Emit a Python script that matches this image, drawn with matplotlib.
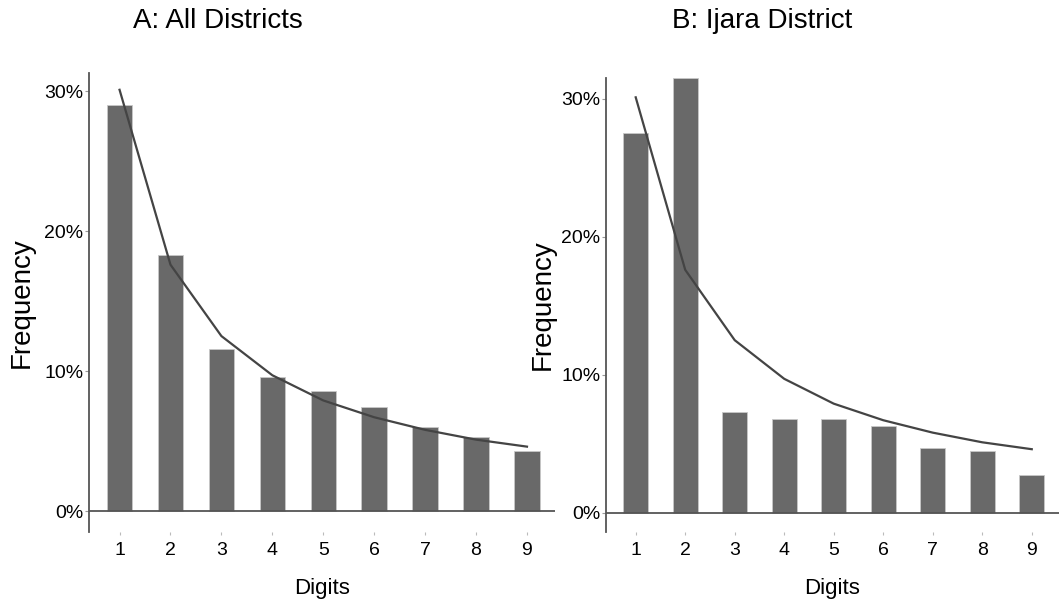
import numpy as np
import matplotlib
matplotlib.use("Agg")
import matplotlib.pyplot as plt
from matplotlib.ticker import FuncFormatter

plt.rcParams["font.family"] = ["Liberation Sans", "DejaVu Sans"]

digits = [1, 2, 3, 4, 5, 6, 7, 8, 9]
# observed first-digit frequencies (%)
all_districts = [29.0, 18.3, 11.6, 9.6, 8.6, 7.4, 6.0, 5.3, 4.3]
ijara_district = [27.5, 31.5, 7.3, 6.8, 6.8, 6.3, 4.7, 4.5, 2.7]
# Benford expected frequencies (%)
benford = [30.1, 17.6, 12.5, 9.7, 7.9, 6.7, 5.8, 5.1, 4.6]

panels = [
    ("A: All Districts", all_districts, [89, 73, 555, 532], (-1.5, 31.3), 7),
    ("B: Ijara District", ijara_district, [606, 78, 1059, 532], (-1.4, 31.5), 4),
]
title_x = [218, 762]

W, H = 1059, 601
fig = plt.figure(figsize=(W / 100, H / 100), dpi=100)

for (title, obs, box, ylim, ypad), tx in zip(panels, title_x):
    x0, y0, x1, y1 = box
    ax = fig.add_axes([x0 / W, 1 - y1 / H, (x1 - x0) / W, (y1 - y0) / H])
    ax.bar(digits, obs, width=0.5, color="#696969", edgecolor="#c8c8c8",
           linewidth=0.6, zorder=2)
    ax.plot(digits, benford, color="#444444", linewidth=1.6, zorder=3)
    ax.axhline(0, color="#555555", linewidth=1.3, zorder=4)

    ax.set_xlim(0.4, 9.55)
    ax.set_ylim(*ylim)
    ax.set_xticks(digits)
    ax.set_yticks([0, 10, 20, 30])
    ax.yaxis.set_major_formatter(FuncFormatter(lambda v, p: f"{v:.0f}%"))

    for s in ["top", "right", "bottom"]:
        ax.spines[s].set_visible(False)
    ax.spines["left"].set_color("#555555")
    ax.spines["left"].set_linewidth(1.3)

    ax.tick_params(axis="x", length=2, width=0.8, color="#bbbbbb",
                   labelsize=14, pad=5)
    ax.tick_params(axis="y", length=3, width=0.8, color="#999999",
                   labelsize=14, pad=1)

    ax.set_xlabel("Digits", fontsize=16, labelpad=14)
    ax.set_ylabel("Frequency", fontsize=20, labelpad=ypad)
    fig.text(tx / W, 1 - 21 / H, title, fontsize=20, ha="center", va="center")

fig.savefig("out.png", dpi=100)
